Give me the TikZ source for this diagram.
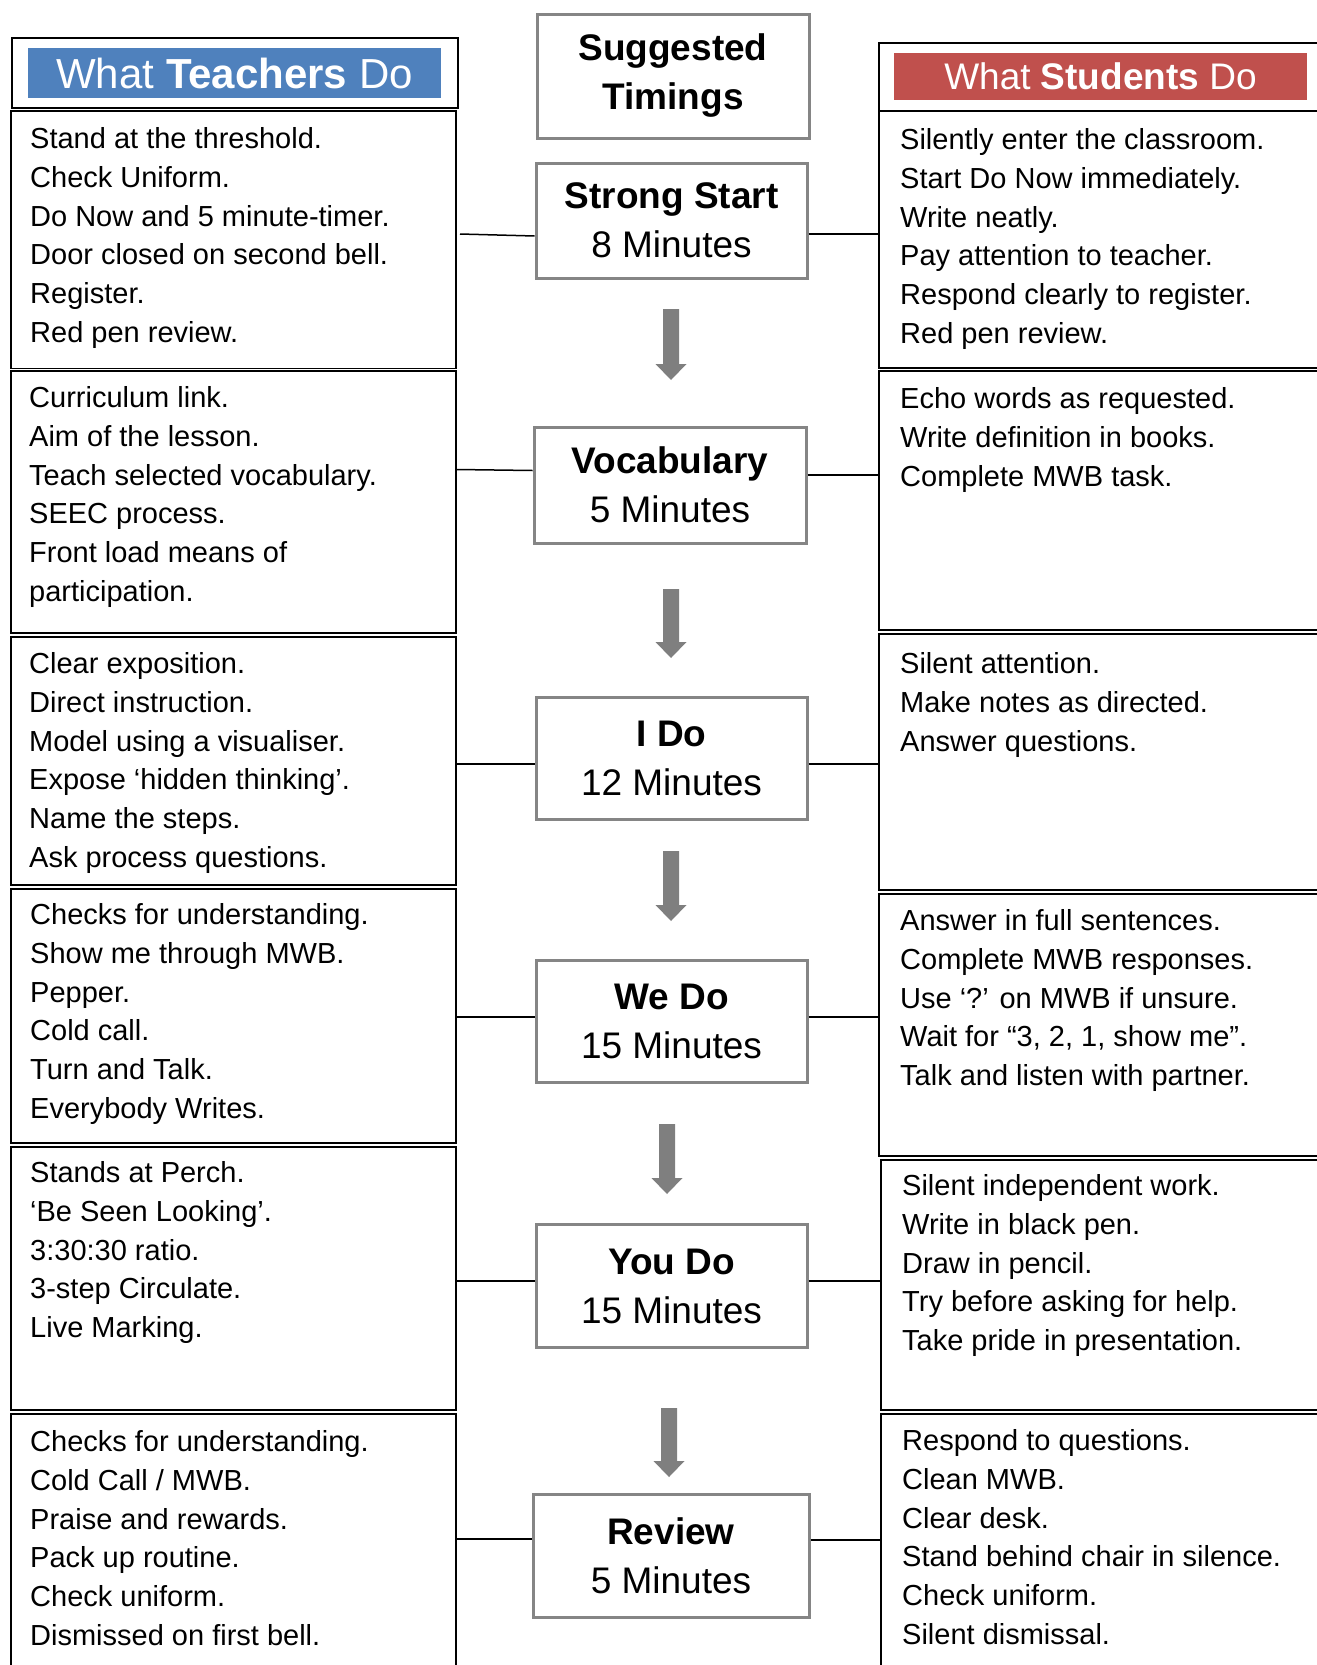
\documentclass[tikz,border=0pt]{standalone}
\usepackage{fontspec}
\setmainfont{Liberation Sans}
\definecolor{tblue}{HTML}{4F81BD}
\definecolor{sred}{HTML}{C0504D}
\definecolor{boxgray}{HTML}{858585}
\definecolor{arrowgray}{HTML}{7F7F7F}
\tikzset{
  cell/.style={draw=black, line width=1.6pt, anchor=north west, inner sep=0pt},
  headframe/.style={draw=black, line width=2pt, anchor=north west, inner sep=0pt},
  headfill/.style={fill=#1, text=white, inner sep=0pt},
  txt/.style={anchor=north west, inner sep=0pt, align=left,
    font=\fontsize{29}{38.9}\selectfont},
  timebox/.style={draw=boxgray, line width=3pt, inner sep=0pt, align=center,
    font=\fontsize{37}{49}\selectfont},
  link/.style={draw=black, line width=1.5pt},
}
\begin{document}
\begin{tikzpicture}[x=1pt, y=-1pt]
    \useasboundingbox (0,0) rectangle (1317,1665);
    \clip (0,0) rectangle (1317,1665);
    % column headers
    \node[headframe, minimum width=446pt, minimum height=70pt] (thframe) at (11,37) {};
    \node[headfill=tblue, minimum width=413pt, minimum height=50pt,
      font=\fontsize{42}{48}\selectfont] (thead) at (234.5,73) {What \textbf{Teachers} Do};
    \node[headframe, minimum width=462pt, minimum height=68pt] (shframe) at (878,42) {};
    \node[headfill=sred, minimum width=413pt, minimum height=47pt,
      font=\fontsize{37}{44}\selectfont] (shead) at (1100.5,76.5) {What \textbf{Students} Do};
    % teacher and student cells
    \foreach \n/\x/\w/\ya/\yb in {t1/10/445/110/367.5, t2/10/445/370/632, t3/10/445/636/884,
      t4/10/445/888/1142, t5/10/445/1146/1409, t6/10/445/1413/1700,
      s1/878/462/110/367, s2/878/462/370/629, s3/878/462/633/889,
      s4/878/462/893/1155, s5/880/460/1159/1409, s6/880/460/1413/1700}
      \node[cell, minimum width=\w, minimum height={\yb-\ya}] (\n) at (\x,\ya) {};
    % suggested timings
    \node[timebox, minimum width=272pt, minimum height=124pt] (sugg) at (673,76)
      {\textbf{Suggested}\\\textbf{Timings}};
    \node[timebox, minimum width=271pt, minimum height=115pt] (strong) at (671.5,220.5)
      {\textbf{Strong Start}\\8 Minutes};
    \node[timebox, minimum width=272pt, minimum height=116pt] (vocab) at (670,485)
      {\textbf{Vocabulary}\\5 Minutes};
    \node[timebox, minimum width=271pt, minimum height=122pt] (ido) at (671.5,758)
      {\textbf{I Do}\\12 Minutes};
    \node[timebox, minimum width=271pt, minimum height=122pt] (wedo) at (671.5,1021)
      {\textbf{We Do}\\15 Minutes};
    \node[timebox, minimum width=271pt, minimum height=123pt] (youdo) at (671.5,1286)
      {\textbf{You Do}\\15 Minutes};
    \node[timebox, minimum width=276pt, minimum height=123pt] (review) at (671,1555.5)
      {\textbf{Review}\\5 Minutes};
    % arrows between timings
    \foreach \x/\ya/\yb in {671/309/380, 671/589/658, 671/851/921, 667/1124/1194, 669/1408/1477}
      \fill[arrowgray] (\x-8,\ya) -- (\x+8,\ya) -- (\x+8,\yb-16) -- (\x+15.5,\yb-16)
        -- (\x,\yb) -- (\x-15.5,\yb-16) -- (\x-8,\yb-16) -- cycle;
    % teacher texts
    \node[txt] (t1txt) at (30,127) {Stand at the threshold.\\Check Uniform.\\Do Now and 5 minute-timer.\\Door closed on second bell.\\Register.\\Red pen review.};
    \node[txt] (t2txt) at (29,386) {Curriculum link.\\Aim of the lesson.\\Teach selected vocabulary.\\SEEC process.\\Front load means of\\participation.};
    \node[txt] (t3txt) at (29,652) {Clear exposition.\\Direct instruction.\\Model using a visualiser.\\Expose ‘hidden thinking’.\\Name the steps.\\Ask process questions.};
    \node[txt] (t4txt) at (30,903) {Checks for understanding.\\Show me through MWB.\\Pepper.\\Cold call.\\Turn and Talk.\\Everybody Writes.};
    \node[txt] (t5txt) at (30,1161) {Stands at Perch.\\‘Be Seen Looking’.\\3:30:30 ratio.\\3-step Circulate.\\Live Marking.};
    \node[txt] (t6txt) at (30,1430) {Checks for understanding.\\Cold Call / MWB.\\Praise and rewards.\\Pack up routine.\\Check uniform.\\Dismissed on first bell.};
    % student texts
    \node[txt] (s1txt) at (900,128) {Silently enter the classroom.\\Start Do Now immediately.\\Write neatly.\\Pay attention to teacher.\\Respond clearly to register.\\Red pen review.};
    \node[txt] (s2txt) at (900,387) {Echo words as requested.\\Write definition in books.\\Complete MWB task.};
    \node[txt] (s3txt) at (900,652) {Silent attention.\\Make notes as directed.\\Answer questions.};
    \node[txt] (s4txt) at (900,909) {Answer in full sentences.\\Complete MWB responses.\\Use ‘?’ on MWB if unsure.\\Wait for “3, 2, 1, show me”.\\Talk and listen with partner.};
    \node[txt] (s5txt) at (902,1174) {Silent independent work.\\Write in black pen.\\Draw in pencil.\\Try before asking for help.\\Take pride in presentation.};
    \node[txt] (s6txt) at (902,1429) {Respond to questions.\\Clean MWB.\\Clear desk.\\Stand behind chair in silence.\\Check uniform.\\Silent dismissal.};
    % links from the cells to the timings
    \draw[link] (460,234) -- (strong.west |- 0,236);
    \draw[link] (strong.east |- 0,234) -- (s1.west |- 0,234);
    \draw[link] (t2.east |- 0,469.5) -- (vocab.west |- 0,470.5);
    \draw[link] (vocab.east |- 0,475) -- (s2.west |- 0,475);
    \draw[link] (t3.east |- 0,764) -- (ido.west |- 0,764);
    \draw[link] (ido.east |- 0,764) -- (s3.west |- 0,764);
    \draw[link] (t4.east |- 0,1017) -- (wedo.west |- 0,1017);
    \draw[link] (wedo.east |- 0,1017) -- (s4.west |- 0,1017);
    \draw[link] (t5.east |- 0,1281) -- (youdo.west |- 0,1281);
    \draw[link] (youdo.east |- 0,1281) -- (s5.west |- 0,1281);
    \draw[link] (t6.east |- 0,1539) -- (review.west |- 0,1539);
    \draw[link] (review.east |- 0,1540) -- (s6.west |- 0,1540);
\end{tikzpicture}
\end{document}
